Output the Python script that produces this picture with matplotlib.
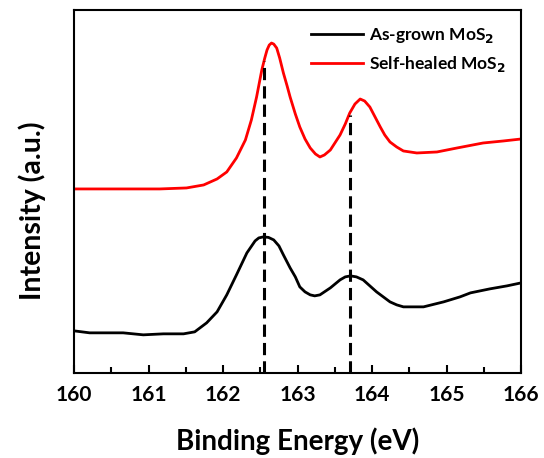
import matplotlib.pyplot as plt
from matplotlib.ticker import MultipleLocator

plt.rcParams['font.family'] = ['Lato', 'DejaVu Sans']
plt.rcParams['font.weight'] = 'bold'

# binding energy (eV) and intensity (a.u.)
be_healed = [160.0, 160.6, 161.15, 161.51, 161.74, 161.92, 162.05, 162.18, 162.30,
             162.38, 162.45, 162.52, 162.56, 162.59, 162.62, 162.65, 162.68, 162.72,
             162.76, 162.81, 162.86, 162.90, 162.97, 163.03, 163.10, 163.17, 163.24,
             163.30, 163.36, 163.44, 163.57, 163.64, 163.70, 163.77, 163.84, 163.90,
             163.97, 164.04, 164.11, 164.17, 164.24, 164.33, 164.42, 164.60, 164.87,
             165.14, 165.49, 165.76, 166.0]
int_healed = [184, 184, 184, 185, 188, 194, 201, 215, 233,
              253, 276, 303, 315, 323, 328, 330, 329, 325,
              315, 300, 287, 276, 259, 246, 234, 225, 219,
              216, 218, 223, 238, 249, 260, 269, 274, 272,
              266, 256, 246, 238, 231, 226, 222, 220, 221,
              225, 230, 232, 234]

be_grown = [160.0, 160.21, 160.39, 160.66, 160.93, 161.20, 161.47, 161.62, 161.78,
            161.92, 162.05, 162.18, 162.32, 162.43, 162.48, 162.54, 162.61, 162.68,
            162.75, 162.81, 162.90, 162.97, 163.03, 163.10, 163.17, 163.23, 163.30,
            163.44, 163.57, 163.64, 163.71, 163.79, 163.88, 163.97, 164.06, 164.15,
            164.24, 164.33, 164.42, 164.69, 164.96, 165.18, 165.32, 165.58, 165.81,
            166.0]
int_grown = [42, 40, 40, 40, 38, 39, 39, 41, 50,
             61, 78, 98, 120, 132, 135, 136, 135.5, 133,
             127, 118, 105, 96, 86, 81, 78, 77, 78,
             85, 93, 96, 97, 96, 93, 87, 81, 76,
             71, 68, 66, 66, 71, 76, 80, 84, 87,
             90]

peak_pos = [162.55, 163.71]
peak_top = [312, 258]

fig = plt.figure(figsize=(5.44, 4.58), dpi=100)
ax = fig.add_axes([0.136, 0.186, 0.822, 0.792])

ax.plot(be_grown, int_grown, color='black', lw=2, label='As-grown MoS$_\\mathbf{2}$')
ax.plot(be_healed, int_healed, color='red', lw=2, label='Self-healed MoS$_\\mathbf{2}$')
for x, top in zip(peak_pos, peak_top):
    ax.plot([x, x], [0, top], color='black', lw=2.2, ls=(0, (4, 2)))

ax.set_xlim(160, 166)
ax.set_ylim(0, 363)
ax.xaxis.set_major_locator(MultipleLocator(1))
ax.xaxis.set_minor_locator(MultipleLocator(0.5))
ax.tick_params(axis='x', which='major', direction='in', length=6, width=1.5, labelsize=15, pad=9)
ax.tick_params(axis='x', which='minor', direction='in', length=4, width=1.5)
ax.set_yticks([])
for s in ax.spines.values():
    s.set_linewidth(1.5)

ax.set_xlabel('Binding Energy (eV)', fontsize=20, fontweight='bold', labelpad=16)
ax.set_ylabel('Intensity (a.u.)', fontsize=20.5, fontweight='bold')
ax.yaxis.set_label_coords(-0.062, 0.446)

ax.legend(loc='upper right', frameon=False, fontsize=12.5, handlelength=3.0,
          handletextpad=0.3, labelspacing=0.55, borderaxespad=0.5)

fig.savefig('out.png', dpi=100)
